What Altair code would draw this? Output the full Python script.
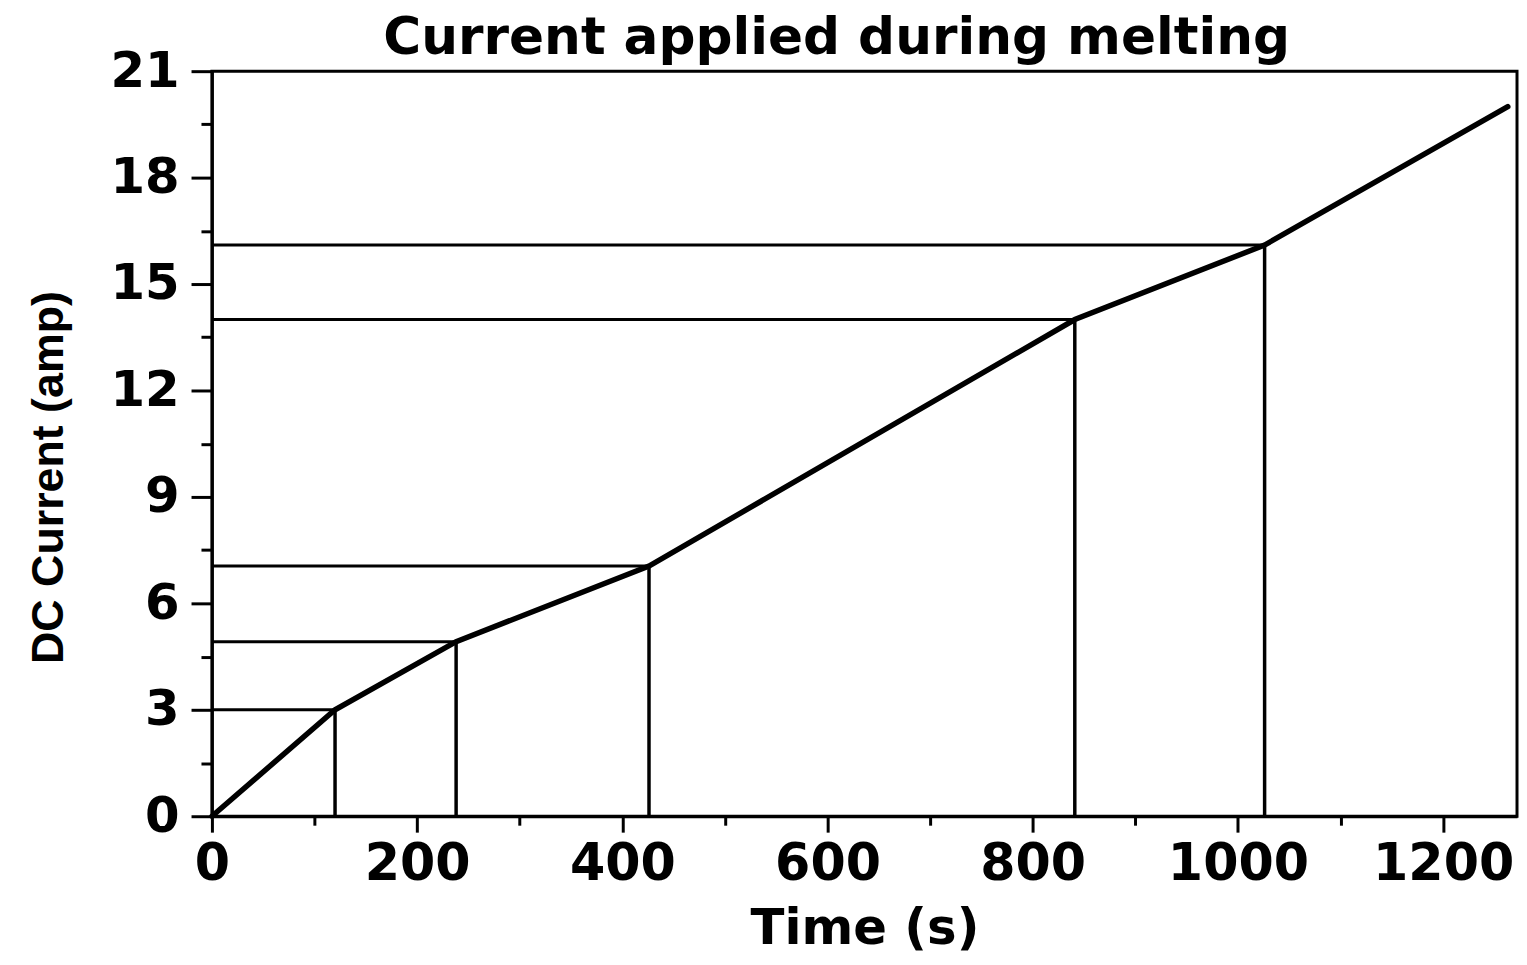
import altair as alt
import pandas as pd

times = [0, 120, 238, 426, 841, 1026, 1263]
currents = [0, 3.0, 4.92, 7.05, 14.0, 16.1, 20.0]

ref_times = times[1:6]
ref_currents = currents[1:6]

line_df = pd.DataFrame({"t": times, "c": currents})
ref_df = pd.DataFrame({"t": ref_times, "c": ref_currents,
                       "zero_t": [0] * len(ref_times), "zero_c": [0] * len(ref_times)})

x_ticks = list(range(0, 1300, 100))
y_ticks = [i * 1.5 for i in range(0, 15)]

tick_font = "DejaVu Sans"

x_scale = alt.Scale(domain=[0, 1272], nice=False, zero=False)
y_scale = alt.Scale(domain=[0, 21], nice=False, zero=False)

x_axis = alt.Axis(
    values=x_ticks, format="d",
    labelExpr="datum.value % 200 === 0 ? datum.label : ''",
    tickSize={"condition": {"test": "datum.value % 200 === 0", "value": 16}, "value": 9},
    tickWidth=3, tickColor="black",
    domainWidth=3, domainColor="black",
    labelFont=tick_font, labelFontWeight="bold", labelFontSize=51, labelColor="black",
    labelPadding=8, labelFlush=False, labelOverlap=False,
    grid=False,
    title="Time (s)", titleFont=tick_font, titleFontWeight="bold", titleFontSize=50,
    titleColor="black", titleBaseline="alphabetic", titleY=128,
)
y_axis = alt.Axis(
    values=y_ticks,
    labelExpr="datum.value % 3 === 0 ? datum.label : ''",
    tickSize={"condition": {"test": "datum.value % 3 === 0", "value": 21}, "value": 11},
    tickWidth=3, tickColor="black",
    domainWidth=3, domainColor="black",
    labelFont=tick_font, labelFontWeight="bold", labelFontSize=50, labelColor="black",
    labelPadding=12, labelFlush=False, labelOverlap=False,
    grid=False,
    title="DC Current (amp)", titleFont="Liberation Sans",
    titleFontWeight="bold", titleFontSize=45, titleColor="black",
    titleAngle=-90, titleAlign="center", titleBaseline="middle",
    titleX=-164, titleY=408,
)

base = alt.Chart(line_df)

line = base.mark_line(color="black", strokeWidth=5.5, strokeCap="round").encode(
    x=alt.X("t:Q", scale=x_scale, axis=x_axis),
    y=alt.Y("c:Q", scale=y_scale, axis=y_axis),
)

hrules = alt.Chart(ref_df).mark_rule(color="black", strokeWidth=3).encode(
    x=alt.X("zero_t:Q", scale=x_scale),
    x2="t:Q",
    y=alt.Y("c:Q", scale=y_scale),
)

vrules = alt.Chart(ref_df).mark_rule(color="black", strokeWidth=3.5).encode(
    x=alt.X("t:Q", scale=x_scale),
    y=alt.Y("zero_c:Q", scale=y_scale),
    y2="c:Q",
)

chart = alt.layer(hrules, vrules, line).properties(
    width=1312, height=749,
    padding={"left": 205, "top": 61, "right": 2, "bottom": 138},
    autosize=alt.AutoSizeParams(type="none"),
    title=alt.TitleParams(
        "Current applied during melting", font=tick_font, fontWeight="bold",
        fontSize=52, color="black", anchor="middle", dx=-28, offset=-19,
    ),
).configure(
    background="white",
    view=alt.ViewConfig(stroke="black", strokeWidth=3),
)

chart.save("out.html", embed_options={"renderer": "svg", "actions": False})
